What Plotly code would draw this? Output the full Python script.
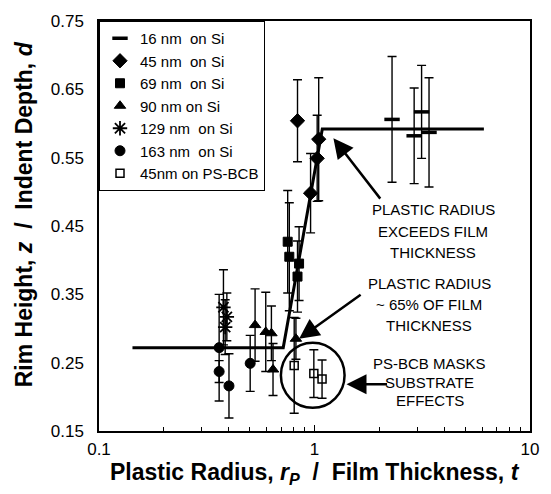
import math
import plotly.graph_objects as go

# ---------------- data ----------------
x16 = [2.29, 2.90, 3.14, 3.40]
y16 = [0.606, 0.582, 0.617, 0.587]
e16 = [0.092, 0.070, 0.068, 0.080]

x45 = [0.834, 1.046, 1.029, 0.959]
y45 = [0.604, 0.577, 0.549, 0.498]
e45 = [0.060, 0.090, 0.063, 0.058]

x69 = [0.751, 0.764, 0.848, 0.834]
y69 = [0.427, 0.405, 0.395, 0.376]
e69 = [0.075, 0.079, 0.054, 0.052]

x90 = [0.530, 0.594, 0.631, 0.642, 0.820]
y90 = [0.305, 0.295, 0.293, 0.240, 0.285]
e90 = [0.053, 0.058, 0.040, 0.038, 0.030]

x129 = [0.378, 0.392, 0.385]
y129 = [0.331, 0.317, 0.302]
e129 = [0.055, 0.035, 0.040]

x163 = [0.361, 0.361, 0.401, 0.503]
y163 = [0.272, 0.237, 0.216, 0.249]
e163 = [0.078, 0.016, 0.047, 0.041]

xps = [0.805, 0.993, 1.084]
yps = [0.246, 0.234, 0.226]
eps = [0.070, 0.035, 0.028]

xfit = [0.143, 0.716, 1.087, 6.11]
yfit = [0.272, 0.272, 0.592, 0.592]

series_names = ["16 nm\u00a0 on Si", "45 nm\u00a0 on Si", "69 nm\u00a0 on Si",
                "90 nm on Si", "129 nm\u00a0 on Si", "163 nm\u00a0 on Si",
                "45nm on PS-BCB"]

x_tickvals = [0.1, 1, 10]
x_ticktext = ["0.1", "1", "10"]
x_minor = [0.2, 0.3, 0.4, 0.5, 0.6, 0.7, 0.8, 0.9, 2, 3, 4, 5, 6, 7, 8, 9]
y_tickvals = [0.15, 0.25, 0.35, 0.45, 0.55, 0.65, 0.75]
y_ticktext = ["0.15", "0.25", "0.35", "0.45", "0.55", "0.65", "0.75"]

FONT = "Liberation Sans, Arial, sans-serif"
BLACK = "#000000"

fig = go.Figure()

fig.add_trace(go.Scatter(x=xfit, y=yfit, mode="lines",
                         line=dict(color=BLACK, width=3), showlegend=False,
                         hoverinfo="skip"))


def add_series(x, y, e, name, symbol, size, lw=1):
    fig.add_trace(go.Scatter(
        x=x, y=y, mode="markers", name=name,
        marker=dict(symbol=symbol, size=size, color=BLACK,
                    line=dict(color=BLACK, width=lw)),
        error_y=dict(type="data", array=e, visible=True, color=BLACK,
                     thickness=1.4, width=4.5),
    ))


add_series(x16, y16, e16, series_names[0], "line-ew-open", 11, 3.5)
add_series(x45, y45, e45, series_names[1], "diamond", 11)
add_series(x69, y69, e69, series_names[2], "square", 9)
add_series(x90, y90, e90, series_names[3], "triangle-up", 10)
add_series(x129, y129, e129, series_names[4], "asterisk-open", 12, 1.8)
add_series(x163, y163, e163, series_names[5], "circle", 10)
add_series(xps, yps, eps, series_names[6], "square-open", 8, 1.5)

# plot area in pixels
W, H = 551, 494
ML, MR, MT, MB = 99, 12, 12, 63
PW, PH = W - ML - MR, H - MT - MB


def pxp(px):
    return (px - ML) / PW


def pyp(py):
    return (H - MB - py) / PH


annotations = []
text_lines = [
    ("PLASTIC RADIUS", 440, 205), ("EXCEEDS FILM", 440, 226.7), ("THICKNESS", 440, 248.3),
    ("PLASTIC RADIUS", 436, 280), ("~ 65% OF FILM", 436, 301.7), ("THICKNESS", 436, 323.3),
    ("PS-BCB MASKS", 436, 361.7), ("SUBSTRATE", 436, 381.7), ("EFFECTS", 437, 400),
]
for t, px, py in text_lines:
    annotations.append(dict(text=t, x=pxp(px), y=pyp(py), xref="paper", yref="paper",
                            showarrow=False, xanchor="center", yanchor="middle",
                            font=dict(family=FONT, size=15, color=BLACK)))

arrows = [((338.3, 131.7), 48, 62), ((303.3, 336.7), 63, -45), ((351.7, 383.3), 42, 0)]
for (hx, hy), ax, ay in arrows:
    annotations.append(dict(text="", x=pxp(hx), y=pyp(hy), xref="paper", yref="paper",
                            showarrow=True, ax=ax, ay=ay, arrowhead=2, arrowsize=1.6,
                            arrowwidth=2.5, arrowcolor=BLACK))

annotations.append(dict(
    text="<b>Rim Height,\u00a0<i>z</i>\u00a0\u00a0/\u00a0\u00a0Indent Depth,\u00a0<i>d</i></b>",
    x=pxp(22), y=pyp(210), xref="paper", yref="paper", showarrow=False,
    textangle=-90, xanchor="center", yanchor="middle",
    font=dict(family=FONT, size=23, color=BLACK)))
annotations.append(dict(
    text="<b>Plastic Radius,\u00a0<i>r<sub>P</sub></i>\u00a0\u00a0/\u00a0\u00a0Film Thickness,\u00a0<i>t</i></b>",
    x=pxp(319), y=pyp(474), xref="paper", yref="paper", showarrow=False,
    xanchor="center", yanchor="middle",
    font=dict(family=FONT, size=23, color=BLACK)))

shapes = [dict(type="circle", xref="paper", yref="paper",
               x0=pxp(284.7), x1=pxp(349.7), y0=pyp(407.3), y1=pyp(340.7),
               line=dict(color=BLACK, width=2.5))]

fig.update_layout(
    width=W, height=H,
    margin=dict(l=ML, r=MR, t=MT, b=MB),
    paper_bgcolor="white", plot_bgcolor="white",
    font=dict(family=FONT, color=BLACK),
    showlegend=True,
    legend=dict(x=0, y=1, xanchor="left", yanchor="top",
                bordercolor=BLACK, borderwidth=1, bgcolor="white",
                font=dict(family=FONT, size=15, color=BLACK),
                tracegroupgap=0, itemwidth=30),
    annotations=annotations,
    shapes=shapes,
    xaxis=dict(type="log", range=[-1, 1], showgrid=False, zeroline=False,
               showline=True, linecolor=BLACK, linewidth=1.5, mirror=True,
               tickvals=x_tickvals, ticktext=x_ticktext, ticks="inside",
               ticklen=6, tickcolor=BLACK, tickwidth=1,
               tickfont=dict(family=FONT, size=17, color=BLACK),
               ticklabelstandoff=2,
               minor=dict(tickvals=x_minor, ticks="inside", ticklen=4,
                          tickcolor=BLACK, tickwidth=1, showgrid=False)),
    yaxis=dict(range=[0.15, 0.75], showgrid=False, zeroline=False,
               showline=True, linecolor=BLACK, linewidth=1.5, mirror=True,
               tickvals=y_tickvals, ticktext=y_ticktext, ticks="",
               tickfont=dict(family=FONT, size=17, color=BLACK),
               ticklabelstandoff=10),
)

fig.write_html("out.html")
